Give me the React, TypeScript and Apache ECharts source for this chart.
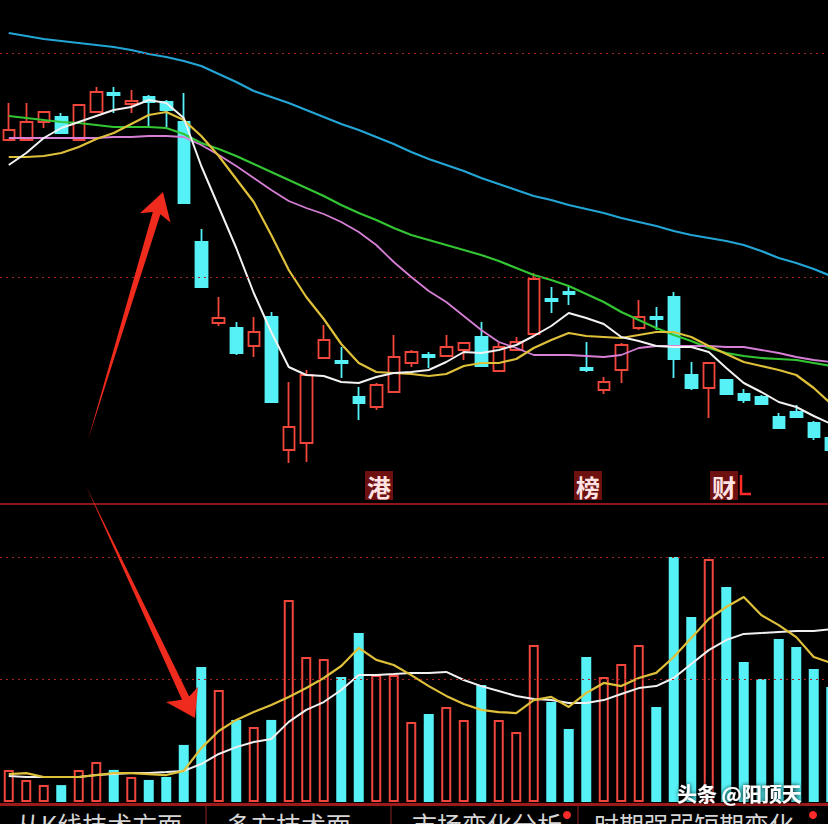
import React, { useEffect, useRef } from "react";
import * as echarts from "echarts";

// ---- Price panel data (open, close, low, high per day) ----
const opens = [17.2, 17.2, 17.56, 17.66, 17.2, 17.76, 18.14, 17.92, 18.06, 17.96, 17.56, 15.16, 13.54, 13.44, 13.08, 13.66, 11.0, 11.14, 12.84, 12.78, 12.06, 11.86, 12.16, 12.74, 12.9, 12.88, 13.0, 13.26, 12.58, 13.0, 13.32, 14.02, 14.16, 12.64, 12.2, 12.6, 13.44, 13.66, 14.06, 12.5, 12.24, 12.4, 12.12, 12.06, 11.66, 11.76, 11.54, 11.24];
const closes = [17.4, 17.56, 17.76, 17.34, 17.9, 18.16, 18.1, 17.98, 17.96, 17.8, 15.94, 14.26, 13.64, 12.94, 13.36, 11.96, 11.46, 12.5, 13.2, 12.74, 11.94, 12.3, 12.86, 12.96, 12.86, 13.06, 13.14, 12.68, 13.06, 13.16, 14.42, 13.98, 14.12, 12.6, 12.36, 13.1, 13.66, 13.62, 12.82, 12.24, 12.74, 12.12, 12.0, 11.92, 11.44, 11.66, 11.26, 11.0];
const lows = [17.2, 17.2, 17.44, 17.34, 17.2, 17.76, 17.74, 17.74, 17.46, 17.46, 15.94, 14.26, 13.48, 12.9, 12.86, 11.96, 10.74, 10.76, 12.84, 12.44, 11.6, 11.8, 12.14, 12.66, 12.64, 12.88, 12.8, 12.68, 12.58, 13.0, 13.32, 13.74, 13.9, 12.56, 12.12, 12.34, 13.4, 13.4, 12.44, 12.2, 11.64, 12.12, 11.94, 11.92, 11.44, 11.64, 11.2, 10.9];
const highs = [17.94, 17.94, 17.76, 17.74, 17.9, 18.26, 18.26, 18.2, 18.1, 18.0, 18.14, 15.42, 14.06, 13.56, 13.66, 13.76, 12.36, 12.6, 13.5, 13.06, 12.26, 12.34, 13.3, 13.0, 12.96, 13.3, 13.14, 13.56, 13.14, 13.26, 14.54, 14.26, 14.3, 13.16, 12.46, 13.14, 14.0, 13.86, 14.16, 12.76, 12.76, 12.4, 12.22, 12.1, 11.74, 11.9, 11.58, 11.3];

// Moving averages
const ma5 = [16.7, 16.94, 17.24, 17.44, 17.56, 17.68, 17.8, 17.86, 18.0, 17.94, 17.64, 16.68, 15.86, 15.04, 14.14, 13.36, 12.66, 12.5, 12.48, 12.36, 12.34, 12.46, 12.54, 12.56, 12.6, 12.76, 12.96, 12.94, 13.0, 13.1, 13.28, 13.48, 13.74, 13.64, 13.52, 13.26, 13.18, 13.08, 13.06, 13.06, 12.96, 12.64, 12.34, 12.16, 11.96, 11.86, 11.68, 11.52];
const ma10 = [16.86, 16.86, 16.88, 16.94, 17.06, 17.22, 17.34, 17.52, 17.7, 17.76, 17.6, 17.28, 16.88, 16.42, 15.96, 15.3, 14.6, 14.06, 13.62, 13.12, 12.74, 12.56, 12.54, 12.52, 12.48, 12.52, 12.68, 12.74, 12.74, 12.82, 13.04, 13.2, 13.34, 13.28, 13.26, 13.24, 13.3, 13.36, 13.36, 13.26, 13.08, 12.92, 12.76, 12.68, 12.6, 12.5, 12.24, 11.92];
const ma20 = [17.24, 17.24, 17.24, 17.24, 17.24, 17.24, 17.26, 17.26, 17.28, 17.28, 17.26, 17.1, 16.9, 16.68, 16.44, 16.2, 15.98, 15.84, 15.72, 15.56, 15.36, 15.1, 14.76, 14.46, 14.18, 13.96, 13.68, 13.4, 13.16, 13.04, 12.9, 12.9, 12.9, 12.88, 12.86, 12.9, 13.04, 13.08, 13.08, 13.08, 13.08, 13.06, 13.06, 13.0, 12.94, 12.86, 12.8, 12.76];
const ma30 = [17.68, 17.64, 17.6, 17.56, 17.54, 17.5, 17.46, 17.46, 17.46, 17.44, 17.32, 17.14, 17.02, 16.88, 16.72, 16.56, 16.4, 16.24, 16.08, 15.9, 15.74, 15.6, 15.44, 15.3, 15.2, 15.1, 15.0, 14.9, 14.78, 14.64, 14.5, 14.4, 14.28, 14.12, 13.96, 13.76, 13.6, 13.44, 13.3, 13.18, 13.04, 12.94, 12.88, 12.84, 12.82, 12.8, 12.74, 12.68];
const ma60 = [19.34, 19.28, 19.22, 19.18, 19.14, 19.1, 19.06, 19.0, 18.92, 18.86, 18.78, 18.68, 18.52, 18.36, 18.18, 18.06, 17.94, 17.8, 17.66, 17.52, 17.4, 17.26, 17.12, 16.96, 16.82, 16.7, 16.58, 16.44, 16.32, 16.2, 16.08, 16.0, 15.9, 15.82, 15.74, 15.64, 15.56, 15.48, 15.38, 15.3, 15.24, 15.18, 15.1, 14.98, 14.84, 14.74, 14.62, 14.48];

// ---- Volume panel data ----
const volumes = [13.1, 9.0, 6.9, 6.9, 13.1, 16.3, 13.1, 10.2, 9.0, 10.2, 23.3, 55.1, 45.7, 33.5, 30.6, 33.5, 82.4, 59.2, 58.4, 51.0, 69.0, 51.8, 51.8, 32.7, 35.9, 38.8, 33.5, 47.8, 33.5, 28.6, 64.1, 40.8, 29.8, 59.2, 51.0, 56.3, 64.1, 38.8, 100, 75.5, 99.2, 87.8, 57.1, 50.2, 66.5, 63.3, 54.3, 46.9];
const volMa5 = [11.4, 11.8, 10.2, 10.2, 10.2, 11.0, 11.8, 11.8, 11.4, 11.0, 12.7, 22.0, 29.0, 33.5, 36.7, 39.6, 42.9, 46.5, 50.6, 55.5, 62.9, 58.0, 55.9, 51.8, 47.3, 43.3, 40.0, 37.6, 36.7, 36.3, 41.6, 42.9, 38.8, 44.5, 48.6, 47.3, 50.6, 52.7, 59.2, 66.9, 74.7, 79.6, 83.7, 76.3, 72.2, 67.3, 59.2, 56.7];
const volMa10 = [10.6, 10.2, 10.2, 10.2, 10.2, 11.0, 11.4, 11.8, 11.8, 12.2, 12.7, 15.5, 19.6, 22.4, 24.5, 25.7, 32.7, 37.6, 40.8, 45.7, 51.8, 51.8, 52.2, 52.7, 52.7, 53.1, 49.8, 47.3, 45.3, 43.3, 42.0, 41.6, 40.4, 40.4, 41.6, 44.1, 46.5, 47.3, 50.6, 56.3, 62.0, 66.1, 68.6, 69.0, 69.4, 69.8, 69.8, 70.6];

const priceGuides = [18.94, 14.46];
const volumeGuides = [50, 100];

const days = opens.map((_, i) => `D${i + 1}`);

const tabLabels = ["从K线技术方面", "多方技术面", "市场变化分析", "时期强弱短期变化"];
const newsMarks = ["港", "榜", "财"];

const RED = "#f0463c";
const CYAN = "#55f1f6";

export default function App() {
  const ref = useRef<HTMLDivElement>(null);

  useEffect(() => {
    if (!ref.current) return;
    const chart = echarts.init(ref.current, undefined, { renderer: "svg" });

    const candles = opens.map((o, i) => [o, closes[i], lows[i], highs[i]]);
    const volData = volumes.map((v, i) => {
      const up = closes[i] >= opens[i];
      return {
        value: v,
        itemStyle: up
          ? { color: "#000", borderColor: RED, borderWidth: 2 }
          : { color: CYAN, borderColor: CYAN, borderWidth: 0 },
      };
    });

    const guideLine = (vals: number[]) => ({
      silent: true,
      symbol: ["none", "none"],
      label: { show: false },
      lineStyle: { color: "#a82222", type: [2, 4], width: 1.2 },
      data: vals.map((v) => ({ yAxis: v })),
    });

    const line = (data: number[], color: string, xi: number, width = 2) => ({
      type: "line",
      xAxisIndex: xi,
      yAxisIndex: xi,
      data,
      symbol: "none",
      silent: true,
      lineStyle: { color, width },
      z: 4,
    });

    const tabX = [16, 226, 412, 594];
    const tabSep = [206, 391, 578];
    const markBoxes = [365, 574, 710];

    const graphic: any[] = [
      { type: "line", shape: { x1: 0, y1: 504, x2: 840, y2: 504 }, style: { stroke: "#8e1616", lineWidth: 2 }, z: 50 },
      { type: "line", shape: { x1: 0, y1: 804.5, x2: 840, y2: 804.5 }, style: { stroke: "#9c1a1a", lineWidth: 3 }, z: 50 },
      ...tabSep.map((x) => ({
        type: "line",
        shape: { x1: x, y1: 806, x2: x, y2: 824 },
        style: { stroke: "#5c1717", lineWidth: 1.5 },
        z: 50,
      })),
      ...tabLabels.map((t, i) => ({
        type: "text",
        x: tabX[i],
        y: 811,
        style: {
          text: t,
          fill: "#d6d6d6",
          fontSize: 25,
          fontFamily: '"Noto Sans CJK SC"',
          verticalAlign: "top",
        },
        z: 50,
      })),
      { type: "circle", shape: { cx: 567, cy: 815, r: 4 }, style: { fill: "#ff2a2a" }, z: 51 },
      { type: "circle", shape: { cx: 813, cy: 815, r: 4 }, style: { fill: "#ff2a2a" }, z: 51 },
      ...newsMarks.map((t, i) => ({
        type: "group",
        z: 60,
        children: [
          { type: "rect", shape: { x: markBoxes[i], y: 471, width: 28, height: 29 }, style: { fill: "#6e1010" }, z: 60 },
          {
            type: "text",
            x: markBoxes[i] + 14,
            y: 486,
            style: {
              text: t,
              fill: "#ffe2e2",
              fontSize: 24,
              fontWeight: "bold",
              fontFamily: '"Noto Sans CJK SC"',
              align: "center",
              verticalAlign: "middle",
            },
            z: 61,
          },
        ],
      })),
      {
        type: "polyline",
        shape: { points: [[741, 475], [741, 494], [751, 494]] },
        style: { stroke: "#ff2a2a", lineWidth: 2.5, fill: "none" },
        z: 62,
      },
      {
        type: "polygon",
        shape: {
          points: [[88, 440], [160.4, 214.3], [170.5, 222.4], [163, 192], [139.9, 213.2], [152.8, 211.9]],
        },
        style: { fill: "#ee2b1c" },
        z: 70,
      },
      {
        type: "polygon",
        shape: {
          points: [[86, 486], [189.2, 696.4], [198, 686.7], [195, 718], [166, 702], [182, 699.8]],
        },
        style: { fill: "#ee2b1c" },
        z: 70,
      },
      {
        type: "text",
        x: 677,
        y: 793,
        style: {
          text: "头条 @阳顶天",
          fill: "#ffffff",
          fontSize: 20,
          fontWeight: "bold",
          fontFamily: '"Noto Sans CJK SC"',
          verticalAlign: "middle",
          textShadowColor: "#000",
          textShadowBlur: 4,
        },
        z: 80,
      },
    ];

    chart.setOption({
      animation: false,
      backgroundColor: "#000",
      grid: [
        { left: 0, right: 0, top: 0, height: 500 },
        { left: 0, right: 0, top: 557, height: 245 },
      ],
      xAxis: [0, 1].map((g) => ({
        type: "category",
        gridIndex: g,
        data: days,
        boundaryGap: true,
        show: false,
      })),
      yAxis: [
        { type: "value", gridIndex: 0, min: 10, max: 20, show: false, splitLine: { show: false } },
        { type: "value", gridIndex: 1, min: 0, max: 100, show: false, splitLine: { show: false } },
      ],
      series: [
        {
          type: "candlestick",
          xAxisIndex: 0,
          yAxisIndex: 0,
          data: candles,
          barWidth: 12,
          silent: true,
          itemStyle: {
            color: "#000",
            color0: CYAN,
            borderColor: RED,
            borderColor0: CYAN,
            borderWidth: 1.8,
          },
          markLine: guideLine(priceGuides),
          z: 2,
        },
        line(ma60, "#23a6d5", 0, 2.2),
        line(ma30, "#33c533", 0, 2.2),
        line(ma20, "#d77fd6", 0, 1.8),
        line(ma10, "#dfc03a", 0, 2.2),
        line(ma5, "#f2f2f2", 0, 2),
        {
          type: "bar",
          xAxisIndex: 1,
          yAxisIndex: 1,
          data: volData,
          barWidth: 10,
          silent: true,
          markLine: guideLine(volumeGuides),
          z: 2,
        },
        line(volMa10, "#f0f0f0", 1, 2),
        line(volMa5, "#dfc03a", 1, 2.2),
      ],
      graphic,
    });

    return () => chart.dispose();
  }, []);

  return (
    <div
      style={{
        position: "fixed",
        left: 0,
        top: 0,
        width: 828,
        height: 824,
        overflow: "hidden",
        background: "#000",
      }}
    >
      <div ref={ref} style={{ width: 840, height: 824 }} />
    </div>
  );
}
